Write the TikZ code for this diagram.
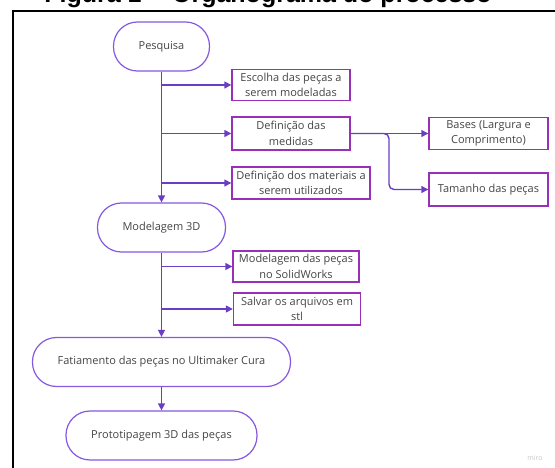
\documentclass[tikz,border=0pt]{standalone}
\usepackage{fontspec}
\setmainfont{Open Sans}
\newfontfamily\titlefont{Liberation Sans}
\usetikzlibrary{arrows.meta}
\definecolor{flowline}{RGB}{106,62,196}
\definecolor{boxline}{RGB}{152,48,184}
\definecolor{endline}{RGB}{134,88,224}
\definecolor{textgray}{RGB}{68,68,68}
\tikzset{
  stadium/.style={draw=endline,line width=1.2pt,rounded corners=24pt,minimum height=49pt,
    text=textgray,font=\fontsize{11}{15}\selectfont,align=center},
  taskbox/.style={draw=boxline,line width=1.4pt,inner sep=0pt,text=textgray,
    font=\fontsize{11}{15.5}\selectfont,align=center},
  flow/.style={draw=flowline,line width=1.4pt,-{Triangle[length=7pt,width=7pt]}},
}
\begin{document}
\begin{tikzpicture}[x=1pt,y=-1pt]
\useasboundingbox (0,0) rectangle (555,468);
\pgfmathsetmacro{\mainx}{161.5}
\draw[line width=2pt](13,470)--(13,11)--(557,11);
\node[anchor=base,font=\titlefont\bfseries\fontsize{25}{30}\selectfont](title) at (268,2.5) {Figura 1 -- Organograma do processo};
\node[stadium,minimum width=96pt](pesq) at (\mainx,46.5) {Pesquisa};
\node[taskbox,minimum width=118pt,minimum height=31pt](esc) at (291,85) {Escolha das peças a\\serem modeladas};
\node[taskbox,minimum width=118pt,minimum height=33pt](med) at (291,133.5) {Definição das\\medidas};
\node[taskbox,minimum width=138pt,minimum height=32pt](mat) at (301,183) {Definição dos materiais a\\serem utilizados};
\node[taskbox,minimum width=119pt,minimum height=32pt](bases) at (488.5,133.5) {Bases (Largura e\\Comprimento)};
\node[taskbox,minimum width=119pt,minimum height=33pt](tam) at (488.5,189.5) {Tamanho das peças};
\node[stadium,minimum width=128pt](mod) at (\mainx,227.5) {Modelagem 3D};
\node[taskbox,minimum width=126pt,minimum height=31pt](solid) at (296,266.5) {Modelagem das peças\\no SolidWorks};
\node[taskbox,minimum width=127pt,minimum height=32pt](stl) at (297,309) {Salvar os arquivos em\\stl};
\node[stadium,minimum width=258pt](fat) at (\mainx,362) {Fatiamento das peças no Ultimaker Cura};
\node[stadium,minimum width=191pt](proto) at (\mainx,435.5) {Prototipagem 3D das peças};
\node[text=gray!45,font=\fontsize{7}{8}\selectfont](miro) at (535,458) {miro};
\coordinate (split) at (389,133.5);
\draw[flow](pesq)--(mod);
\foreach \b in {esc,med,mat}{\draw[flow](pesq.south|-\b.west)--(\b);}
\draw[flow](med)--(bases);
\draw[flow,rounded corners=5pt](med.east)--(split)|-(tam.west);
\draw[flow](mod)--(fat);
\foreach \b in {solid,stl}{\draw[flow](mod.south|-\b.west)--(\b);}
\draw[flow](fat)--(proto);
\end{tikzpicture}
\end{document}
